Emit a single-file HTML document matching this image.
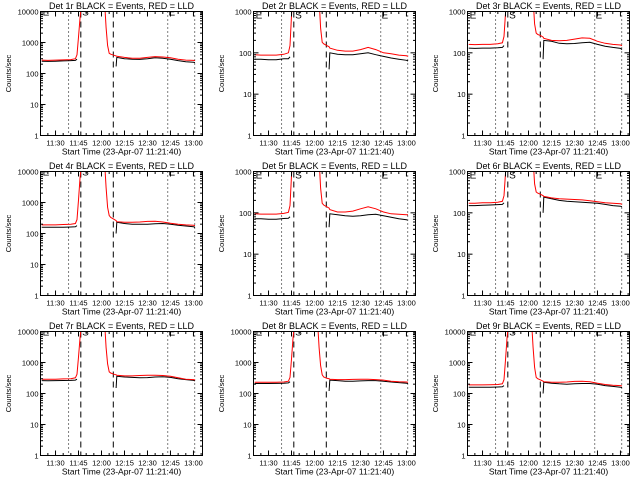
<!DOCTYPE html>
<html><head><meta charset="utf-8"><style>
html,body{margin:0;padding:0;background:#fff;}
svg{display:block;font-family:"Liberation Sans",sans-serif;}
</style></head><body>
<svg id="chart" width="640" height="480" viewBox="0 0 640 480" xmlns="http://www.w3.org/2000/svg"></svg>
<script>
const times = [21,25,30,35,40,43,44,45,46,47,62,63,64,65,66,68,69.5,70,75,80,85,90,95,100,105,110,115,120,121];
const detNames = ["1r","2r","3r","4r","5r","6r","7r","8r","9r"];
const yMaxes = [10000,1000,1000,10000,1000,1000,10000,10000,10000];
const red1 = [270,265,270,275,280,300,400,1500,6000,20000,20000,3000,800,450,420,390,370,360,330,310,310,330,350,340,320,290,270,265,260];
const black1 = [250,245,250,255,260,265,290,null,null,null,null,null,null,null,null,null,170,330,300,290,285,300,320,310,290,260,240,230,225];
const red2 = [90,88,88,88,92,100,150,800,3000,5000,5000,2000,400,180,165,150,140,130,115,110,110,120,135,120,100,95,88,85,82];
const black2 = [70,70,68,68,72,72,80,null,null,null,null,null,null,null,null,null,40,100,92,90,90,95,100,90,82,75,70,66,63];
const red3 = [160,158,160,160,165,175,250,900,3000,5000,5000,2000,500,300,280,260,240,225,200,195,200,215,230,225,190,170,160,155,150];
const black3 = [130,128,130,130,132,135,150,null,null,null,null,null,null,null,null,null,70,200,190,170,165,168,175,180,160,145,135,128,120];
const red4 = [190,190,190,195,200,210,280,1200,6000,20000,20000,3000,700,380,330,290,260,240,230,230,235,245,250,235,215,200,190,185,180];
const black4 = [160,158,160,160,162,165,180,null,null,null,null,null,null,null,null,null,100,230,210,200,198,200,205,210,200,185,175,165,160];
const red5 = [95,93,93,93,97,103,150,800,3000,5000,5000,2000,400,170,155,140,130,120,105,105,110,125,140,125,105,95,92,90,90];
const black5 = [72,72,70,70,73,74,80,null,null,null,null,null,null,null,null,null,45,95,90,85,83,85,90,92,85,78,72,68,66];
const red6 = [170,170,175,175,180,190,260,900,3000,5000,5000,2000,500,320,300,280,260,250,230,220,215,210,205,195,185,175,170,165,160];
const black6 = [150,150,152,155,158,160,175,null,null,null,null,null,null,null,null,null,100,240,220,200,190,185,180,175,170,160,150,145,140];
const red7 = [290,290,290,295,300,320,420,1500,6000,20000,20000,3000,900,500,460,420,400,390,370,370,380,390,390,380,360,320,290,280,275];
const black7 = [260,258,260,262,265,270,290,null,null,null,null,null,null,null,null,null,150,360,340,330,320,325,340,345,330,300,280,265,255];
const red8 = [230,230,230,232,235,250,330,1300,6000,20000,20000,3000,800,400,340,310,300,290,280,280,285,290,290,280,270,250,240,235,230];
const black8 = [210,210,210,212,215,220,240,null,null,null,null,null,null,null,null,null,120,270,260,250,250,255,260,260,250,235,225,215,210];
const red9 = [190,190,190,192,195,205,280,1200,6000,20000,20000,3000,700,330,300,270,250,240,230,230,235,245,250,240,215,195,185,180,175];
const black9 = [160,160,160,160,162,165,180,null,null,null,null,null,null,null,null,null,100,230,215,205,200,205,210,210,200,180,170,160,155];
const redSeries = [red1,red2,red3,red4,red5,red6,red7,red8,red9];
const blackSeries = [black1,black2,black3,black4,black5,black6,black7,black8,black9];
const xTickMinutes = [30,45,60,75,90,105,120];
const xTickLabels = ["11:30","11:45","12:00","12:15","12:30","12:45","13:00"];
const dottedTimes = [38.5,103.2,120.8];
const dashedTimes = [46.5,67.7];
const markerTimes = [21.3,47.0,103.4];
const markerLabels = ["E","S","E"];

const NS = "http://www.w3.org/2000/svg";
const svg = document.getElementById('chart');
const X0 = 20.2, X1 = 125.9;
function mk(tag, attrs, parent){const e=document.createElementNS(NS,tag);for(const k in attrs)e.setAttribute(k,attrs[k]);parent.appendChild(e);return e;}

for(let p=0;p<9;p++){
  const col=p%3,row=Math.floor(p/3);
  const ox=Math.round(col*213.33), oy=row*160;
  const L=ox+40.5,R=ox+202.5,T=oy+11.5,B=oy+135.5;
  const ymax=yMaxes[p], dec=Math.log10(ymax);
  const sx=t=>L+(t-X0)/(X1-X0)*(R-L);
  const sy=v=>B-Math.log10(v)/dec*(B-T);
  const g=mk('g',{},svg);
  
  
  const cp=mk('clipPath',{id:'cp'+p},g);
  mk('rect',{x:L,y:T,width:R-L,height:B-T},cp);
  const title=mk('text',{x:(L+R)/2,y:oy+9,'font-size':'9','text-anchor':'middle',fill:'#000'},g);
  title.textContent='Det '+detNames[p]+' BLACK = Events, RED = LLD';
  
  
  dottedTimes.forEach(t=>{const l=mk('line',{x1:sx(t),x2:sx(t),y1:T,y2:B,stroke:'#000','stroke-width':1,'stroke-dasharray':'1,3'},g);
    
    });
  dashedTimes.forEach(t=>{const l=mk('line',{x1:sx(t),x2:sx(t),y1:T,y2:B,stroke:'#000','stroke-width':1,'stroke-dasharray':'6,4'},g);
    
    });
  const mg=mk('g',{'clip-path':'url(#cp'+p+')'},g);
  markerTimes.forEach((t,i)=>{const m=mk('text',{x:sx(t)+0.5,y:T+(dec>3?4:7),'font-size':'10',fill:'#000'},mg);m.textContent=markerLabels[i];
    
    });
  const dg=mk('g',{'clip-path':'url(#cp'+p+')'},g);
  function path(arr){let d='',pen=false;arr.forEach((v,i)=>{if(v==null){pen=false;return;}d+=(pen?'L':'M')+sx(times[i]).toFixed(1)+','+sy(v).toFixed(1);pen=true;});return d;}
  const bl=mk('path',{d:path(blackSeries[p]),fill:'none',stroke:'#000','stroke-width':1},dg);
  
  
  const rl=mk('path',{d:path(redSeries[p]),fill:'none',stroke:'#f00','stroke-width':1},dg);
  
  
  const box=mk('rect',{x:L,y:T,width:R-L,height:B-T,fill:'none',stroke:'#000','stroke-width':1},g);
  
  
  for(let d=0;d<=dec;d++){
    const y=sy(Math.pow(10,d));
    mk('line',{x1:L,x2:L+5,y1:y,y2:y,stroke:'#000'},g);
    mk('line',{x1:R,x2:R-5,y1:y,y2:y,stroke:'#000'},g);
    const tl=mk('text',{x:L-2,y:y+3,'font-size':'7.5','text-anchor':'end',fill:'#000'},g);
    tl.textContent=String(Math.pow(10,d));
    
    
    if(d<dec)for(let m=2;m<=9;m++){const ym=sy(m*Math.pow(10,d));
      mk('line',{x1:L,x2:L+2.5,y1:ym,y2:ym,stroke:'#000'},g);
      mk('line',{x1:R,x2:R-2.5,y1:ym,y2:ym,stroke:'#000'},g);}
  }
  for(let t=25;t<=125;t+=5){const x=sx(t);const major=xTickMinutes.indexOf(t)>=0;const len=major?5:2.5;
    mk('line',{x1:x,x2:x,y1:B,y2:B-len,stroke:'#000'},g);
    mk('line',{x1:x,x2:x,y1:T,y2:T+len,stroke:'#000'},g);}
  xTickMinutes.forEach((t,i)=>{const tl=mk('text',{x:sx(t),y:B+10,'font-size':'7.5','text-anchor':'middle',fill:'#000'},g);tl.textContent=xTickLabels[i];
    
    });
  const xt=mk('text',{x:(L+R)/2,y:B+19,'font-size':'8.5','text-anchor':'middle',fill:'#000'},g);
  xt.textContent='Start Time (23-Apr-07 11:21:40)';
  
  
  const yt=mk('text',{x:0,y:0,'font-size':'7.5','text-anchor':'middle',fill:'#000',transform:'translate('+(ox+11)+','+((T+B)/2)+') rotate(-90)'},g);
  yt.textContent='Counts/sec';
  
  
}
</script>
</body></html>
